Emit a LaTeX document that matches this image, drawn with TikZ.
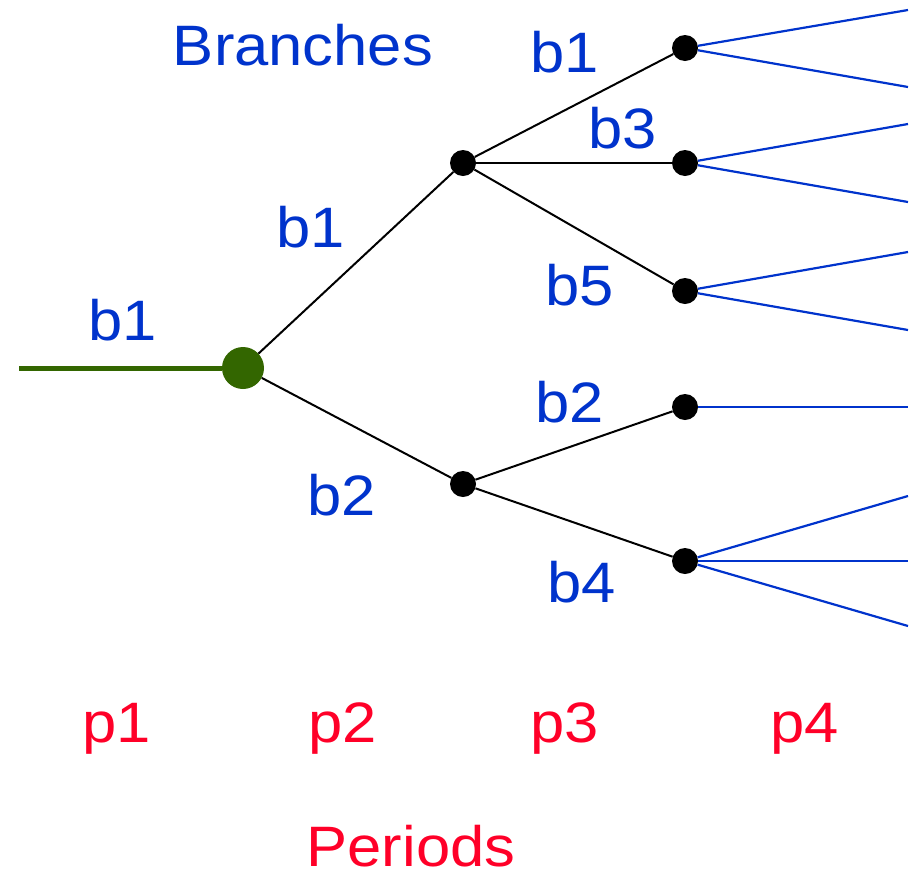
\documentclass[tikz,border=0pt]{standalone}
\usepackage{fontspec}
\setmainfont{Liberation Sans}[FakeStretch=1.08]
\definecolor{lblblue}{RGB}{0,51,204}
\definecolor{lblred}{RGB}{255,0,40}
\definecolor{rootgreen}{RGB}{51,102,0}
\begin{document}
\begin{tikzpicture}[x=1pt,y=-1pt,
  dot/.style={circle,fill=black,inner sep=0pt,minimum size=26pt},
  rootdot/.style={circle,fill=rootgreen,inner sep=0pt,minimum size=42pt},
  edge/.style={draw=black,line width=2pt},
  leaf/.style={draw=lblblue,line width=2.2pt},
  blab/.style={text=lblblue,font=\fontsize{57}{60}\selectfont,anchor=base,inner sep=0pt},
  plab/.style={text=lblred,font=\fontsize{57}{60}\selectfont,anchor=base,inner sep=0pt}]
\useasboundingbox (0,0) rectangle (916,879);
% nodes
\coordinate (start) at (19,368);
\node[rootdot] (r) at (243,368) {};
\node[dot] (a) at (463,163) {};
\node[dot] (b) at (463,484) {};
\node[dot] (c1) at (685,48) {};
\node[dot] (c3) at (685,163) {};
\node[dot] (c5) at (685,291) {};
\node[dot] (c2) at (685,407) {};
\node[dot] (c4) at (685,561) {};
% free ends
\coordinate (e1) at (908,10);
\coordinate (e2) at (908,87);
\coordinate (e3) at (908,124);
\coordinate (e4) at (908,202);
\coordinate (e5) at (908,252);
\coordinate (e6) at (908,330);
\coordinate (e7) at (908,407);
\coordinate (e8) at (908,496);
\coordinate (e9) at (908,561);
\coordinate (e10) at (908,626);
% connectors
\draw[draw=rootgreen,line width=5pt] (start) -- (r);
\draw[edge] (r) -- (a);
\draw[edge] (r) -- (b);
\draw[edge] (a) -- (c1);
\draw[edge] (a) -- (c3);
\draw[edge] (a) -- (c5);
\draw[edge] (b) -- (c2);
\draw[edge] (b) -- (c4);
\draw[leaf] (c1) -- (e1);
\draw[leaf] (c1) -- (e2);
\draw[leaf] (c3) -- (e3);
\draw[leaf] (c3) -- (e4);
\draw[leaf] (c5) -- (e5);
\draw[leaf] (c5) -- (e6);
\draw[leaf] (c2) -- (e7);
\draw[leaf] (c4) -- (e8);
\draw[leaf] (c4) -- (e9);
\draw[leaf] (c4) -- (e10);
% labels
\node[blab] (tbr) at (303,65) {Branches};
\node[blab] (l1) at (123,340) {b1};
\node[blab] (l2) at (311,247) {b1};
\node[blab] (l3) at (342,515) {b2};
\node[blab] (l4) at (565,72) {b1};
\node[blab] (l5) at (623,148) {b3};
\node[blab] (l6) at (580,305) {b5};
\node[blab] (l7) at (570,422) {b2};
\node[blab] (l8) at (582,602) {b4};
\node[plab] (p1) at (117,742) {p1};
\node[plab] (p2) at (343,742) {p2};
\node[plab] (p3) at (565,742) {p3};
\node[plab] (p4) at (805,742) {p4};
\node[plab,text depth=0pt] (per) at (411,866) {Periods};
\end{tikzpicture}
\end{document}
